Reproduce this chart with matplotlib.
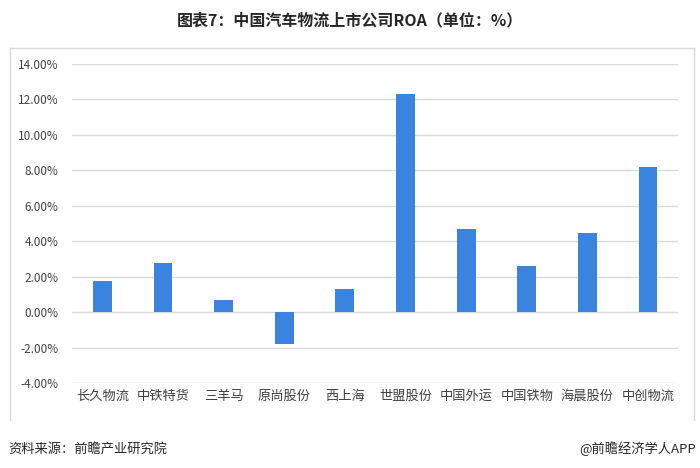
import matplotlib
matplotlib.use("Agg")
import matplotlib.pyplot as plt
from matplotlib.lines import Line2D
from matplotlib.ticker import FuncFormatter

plt.rcParams['font.family'] = ['Noto Sans CJK SC', 'DejaVu Sans']

companies = ["长久物流", "中铁特货", "三羊马", "原尚股份", "西上海",
             "世盟股份", "中国外运", "中国铁物", "海晨股份", "中创物流"]
roa = [1.78, 2.80, 0.70, -1.78, 1.30, 12.33, 4.70, 2.61, 4.48, 8.20]
yticks = [-4, -2, 0, 2, 4, 6, 8, 10, 12, 14]

title = "图表7：中国汽车物流上市公司ROA（单位：%）"
source = "资料来源：前瞻产业研究院"
credit = "@前瞻经济学人APP"

fig = plt.figure(figsize=(7.0, 4.68), dpi=100)
ax = fig.add_axes([0.103, 0.1816, 0.866, 0.6816])

x = list(range(len(companies)))
ax.bar(x, roa, width=0.31, color="#3A84E0", zorder=3)
ax.set_xlim(-0.5, len(companies) - 0.5)
ax.set_ylim(-4, 14)
ax.set_yticks(yticks)
ax.yaxis.set_major_formatter(FuncFormatter(lambda v, p: f"{v:.2f}%"))
ax.set_xticks(x)
ax.set_xticklabels(companies, fontsize=9.5, color="#404040")
ax.tick_params(axis='y', labelsize=8.5, labelcolor="#404040", length=0, pad=10)
ax.tick_params(axis='x', length=0, pad=5)
ax.grid(axis='y', color="#D9D9D9", linewidth=1, zorder=0)
for s in ax.spines.values():
    s.set_visible(False)

# outer chart box (left, top, right lines)
W, H = 700, 468
def fx(px): return px / W
def fy(py): return 1 - py / H
box_color = "#D9D9D9"
fig.add_artist(Line2D([fx(10), fx(10)], [fy(420), fy(48)], color=box_color, lw=1))
fig.add_artist(Line2D([fx(10), fx(694)], [fy(48), fy(48)], color=box_color, lw=1))
fig.add_artist(Line2D([fx(694), fx(694)], [fy(48), fy(420)], color=box_color, lw=1))

fig.text(0.5, fy(20), title, ha='center', va='center', fontsize=11.5,
         fontweight='bold', color="#262626")
fig.text(fx(8), fy(449), source, ha='left', va='center', fontsize=9.5, color="#262626")
fig.text(fx(696), fy(449), credit, ha='right', va='center', fontsize=9.5, color="#262626")

fig.savefig("out.png", dpi=100, facecolor="white")
